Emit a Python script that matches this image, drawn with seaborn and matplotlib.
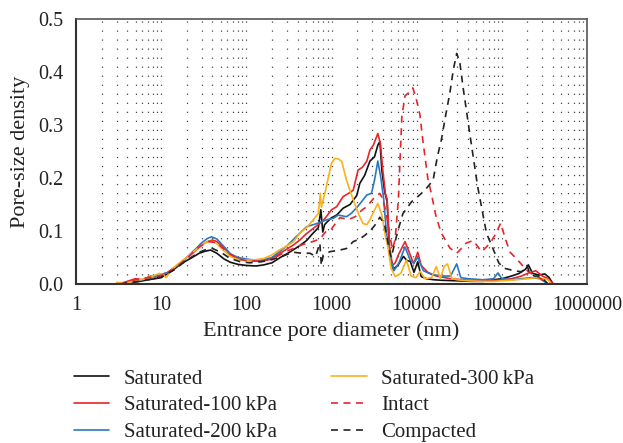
import numpy as np
import pandas as pd
import matplotlib
matplotlib.use("Agg")
import matplotlib.pyplot as plt
import seaborn as sns
from matplotlib.ticker import FixedLocator, NullFormatter

# ---------------- data ----------------
sat_d = [3.3, 4.5, 5.6, 7, 8.5, 10, 12, 14, 17, 22, 28, 33, 38, 45, 55, 65, 80, 100, 130,
         160, 200, 250, 300, 360, 420, 510, 600, 700, 750, 790, 830, 900, 1000, 1150, 1370,
         1650, 1980, 2150, 2450, 2830, 3200, 3500, 3700, 3900, 4200, 4500, 4800, 5300, 6000,
         7000, 7700, 8400, 9300, 10300, 11300, 13000, 16000, 20000, 30000, 45000, 60000,
         80000, 100000, 130000, 160000, 190000, 205000, 230000, 270000, 320000, 360000, 400000]
sat_y = [0.0, 0.003, 0.005, 0.008, 0.010, 0.012, 0.020, 0.027, 0.038, 0.048, 0.058, 0.062,
         0.064, 0.058, 0.047, 0.041, 0.037, 0.035, 0.034, 0.036, 0.040, 0.050, 0.057, 0.065,
         0.072, 0.082, 0.095, 0.106, 0.140, 0.098, 0.112, 0.118, 0.125, 0.130, 0.143, 0.150,
         0.167, 0.190, 0.205, 0.232, 0.240, 0.262, 0.269, 0.215, 0.175, 0.155, 0.060, 0.028,
         0.035, 0.052, 0.044, 0.043, 0.022, 0.042, 0.014, 0.010, 0.008, 0.007, 0.006, 0.005,
         0.005, 0.008, 0.010, 0.015, 0.020, 0.028, 0.036, 0.020, 0.017, 0.019, 0.012, 0.0]

s100_d = [3.2, 4, 5, 6, 7.5, 9, 10, 12, 14, 17, 20, 25, 30, 35, 40, 45, 55, 65, 80, 100, 130,
          160, 200, 250, 300, 360, 425, 500, 610, 700, 800, 870, 1000, 1150, 1370, 1550, 1800,
          2050, 2300, 2600, 2830, 3100, 3500, 3750, 4000, 4300, 4500, 4800, 5200, 5600, 6100,
          7300, 8400, 9200, 10300, 11300, 13500, 17000, 25000, 35000, 50000, 70000, 100000,
          130000, 170000, 200000, 250000, 300000, 350000, 400000]
s100_y = [0.0, 0.005, 0.010, 0.008, 0.015, 0.012, 0.018, 0.022, 0.030, 0.040, 0.050, 0.062,
          0.074, 0.080, 0.083, 0.080, 0.068, 0.055, 0.048, 0.045, 0.043, 0.045, 0.048, 0.058,
          0.066, 0.074, 0.083, 0.094, 0.105, 0.112, 0.120, 0.127, 0.140, 0.146, 0.165, 0.170,
          0.177, 0.215, 0.220, 0.232, 0.253, 0.262, 0.284, 0.265, 0.215, 0.170, 0.160, 0.070,
          0.035, 0.040, 0.055, 0.080, 0.055, 0.038, 0.060, 0.035, 0.022, 0.015, 0.010, 0.008,
          0.006, 0.006, 0.008, 0.010, 0.015, 0.020, 0.025, 0.015, 0.010, 0.0]

s200_d = [3.5, 4.5, 6, 8, 10, 12, 14, 17, 20, 25, 30, 35, 39, 45, 55, 65, 80, 100, 130, 160,
          200, 250, 300, 425, 510, 670, 870, 1050, 1200, 1500, 1700, 2000, 2250, 2600, 2950,
          3200, 3500, 3800, 4100, 4400, 4800, 5400, 6200, 7300, 8400, 9300, 10300, 12000,
          15000, 20000, 25000, 29500, 33000, 40000, 60000, 80000, 90000, 100000, 130000,
          170000, 220000, 280000, 350000]
s200_y = [0.0, 0.003, 0.008, 0.014, 0.017, 0.022, 0.030, 0.040, 0.050, 0.065, 0.078, 0.086,
          0.089, 0.085, 0.070, 0.057, 0.050, 0.047, 0.045, 0.046, 0.050, 0.062, 0.072, 0.096,
          0.108, 0.114, 0.121, 0.124, 0.130, 0.127, 0.133, 0.145, 0.155, 0.168, 0.171, 0.196,
          0.232, 0.200, 0.160, 0.100, 0.055, 0.025, 0.040, 0.070, 0.045, 0.040, 0.050, 0.025,
          0.018, 0.015, 0.015, 0.038, 0.012, 0.010, 0.008, 0.010, 0.021, 0.010, 0.008, 0.010,
          0.012, 0.010, 0.0]

s300_d = [3, 4, 5, 6.5, 8, 9.5, 10.5, 11.5, 13, 15, 18, 22, 27, 32, 36, 40, 45, 55, 65, 80,
          100, 130, 160, 200, 250, 300, 360, 425, 500, 560, 640, 700, 740, 760, 790, 870, 1000,
          1100, 1200, 1320, 1500, 1700, 1870, 2100, 2350, 2600, 2800, 3100, 3500, 3900, 4300,
          4600, 5000, 5600, 6500, 7600, 8600, 9800, 11000, 12500, 15000, 17000, 19000, 21000,
          23000, 26000, 30000, 40000, 60000, 80000, 100000, 150000, 200000, 250000, 300000,
          350000, 380000]
s300_y = [0.003, 0.002, 0.006, 0.010, 0.015, 0.020, 0.018, 0.012, 0.025, 0.035, 0.045, 0.055,
          0.068, 0.077, 0.080, 0.080, 0.076, 0.062, 0.052, 0.046, 0.045, 0.046, 0.048, 0.055,
          0.065, 0.072, 0.080, 0.096, 0.105, 0.114, 0.125, 0.133, 0.171, 0.145, 0.155, 0.184,
          0.228, 0.237, 0.236, 0.231, 0.196, 0.170, 0.152, 0.130, 0.114, 0.112, 0.120, 0.135,
          0.152, 0.130, 0.090, 0.070, 0.030, 0.014, 0.020, 0.045, 0.015, 0.012, 0.024, 0.010,
          0.012, 0.033, 0.010, 0.033, 0.038, 0.010, 0.008, 0.006, 0.005, 0.005, 0.006, 0.008,
          0.010, 0.012, 0.010, 0.008, 0.0]

intact_d = [3.3, 5, 7, 10, 14, 20, 28, 36, 45, 60, 80, 100, 150, 200, 300, 450, 600, 730, 870,
            1000, 1250, 1600, 1900, 2300, 2600, 3250, 3700, 4000, 4400, 4800, 5200, 5600, 6100,
            6700, 7300, 8200, 9000, 9800, 10900, 11800, 13500, 14900, 17000, 19500, 24500,
            29500, 34000, 38000, 46000, 58000, 73000, 85000, 97000, 110000, 125000, 154000,
            195000, 235000, 290000, 330000]
intact_y = [0.0, 0.008, 0.012, 0.016, 0.028, 0.048, 0.070, 0.080, 0.078, 0.060, 0.047, 0.044,
            0.043, 0.047, 0.062, 0.074, 0.080, 0.085, 0.100, 0.104, 0.125, 0.122, 0.127, 0.140,
            0.146, 0.165, 0.171, 0.160, 0.133, 0.095, 0.065, 0.085, 0.160, 0.316, 0.355, 0.362,
            0.370, 0.352, 0.320, 0.272, 0.200, 0.170, 0.125, 0.096, 0.068, 0.058, 0.068, 0.077,
            0.082, 0.061, 0.077, 0.095, 0.115, 0.085, 0.060, 0.045, 0.026, 0.017, 0.010, 0.0]

comp_d = [3.3, 5, 7, 10, 14, 20, 28, 35, 40, 50, 65, 85, 110, 150, 200, 260, 355, 450, 560,
          650, 730, 760, 800, 960, 1250, 1500, 1800, 2150, 2470, 2830, 3200, 3700, 4200, 4700,
          5000, 5300, 6000, 6900, 8700, 10000, 12500, 15600, 17500, 19500, 22000, 24500, 27000,
          29500, 32000, 35000, 42000, 52000, 66000, 80000, 92000, 105000, 140000, 170000,
          190000, 198000, 210000, 240000, 280000, 320000, 350000]
comp_y = [0.0, 0.004, 0.008, 0.013, 0.026, 0.045, 0.060, 0.066, 0.067, 0.060, 0.048, 0.042,
          0.040, 0.042, 0.046, 0.052, 0.060, 0.058, 0.058, 0.052, 0.077, 0.035, 0.055, 0.061,
          0.064, 0.067, 0.080, 0.085, 0.092, 0.100, 0.110, 0.126, 0.112, 0.070, 0.050, 0.065,
          0.100, 0.133, 0.155, 0.163, 0.177, 0.196, 0.240, 0.272, 0.320, 0.360, 0.405, 0.435,
          0.420, 0.372, 0.284, 0.184, 0.096, 0.064, 0.040, 0.030, 0.025, 0.023, 0.030, 0.035,
          0.022, 0.015, 0.015, 0.006, 0.0]

series_names = ["Saturated", "Saturated-100\u2009kPa", "Saturated-200\u2009kPa",
                "Saturated-300\u2009kPa", "Intact", "Compacted"]
series_d = [sat_d, s100_d, s200_d, s300_d, intact_d, comp_d]
series_y = [sat_y, s100_y, s200_y, s300_y, intact_y, comp_y]
colors = ["#111111", "#e8242b", "#2a78c2", "#f8b21c", "#e8242b", "#222222"]
styles = ["-", "-", "-", "-", (0, (5, 4)), (0, (5, 4))]

x_ticks = [1, 10, 100, 1000, 10000, 100000, 1000000]
x_tick_labels = ["1", "10", "100", "1000", "10000", "100000", "1000000"]
y_ticks = [0.0, 0.1, 0.2, 0.3, 0.4, 0.5]
y_tick_labels = ["0.0", "0.1", "0.2", "0.3", "0.4", "0.5"]

# ---------------- plot ----------------
sns.set_theme(style="white")
plt.rcParams["font.family"] = ["Liberation Serif", "DejaVu Serif"]
plt.rcParams["lines.scale_dashes"] = False

fig = plt.figure(figsize=(6.23, 4.43), dpi=100)
ax = fig.add_axes([76 / 623, 1 - 284 / 443, (587 - 76) / 623, (284 - 19) / 443])

frames = []
for name, d, y in zip(series_names, series_d, series_y):
    frames.append(pd.DataFrame({"d": d, "y": y, "series": name}))
df = pd.concat(frames, ignore_index=True)

for name, c, ls in zip(series_names, colors, styles):
    sub = df[df["series"] == name]
    sns.lineplot(data=sub, x="d", y="y", ax=ax, color=c, linestyle=ls, linewidth=1.2,
                 estimator=None, sort=False, label=name, legend=False)

ax.set_xscale("log")
ax.set_xlim(1, 1000000)
ax.set_ylim(0, 0.5)

# dotted vertical grid at each 2..9 x decade and at the decades
grid_pos = []
for e in range(0, 6):
    for m in range(1, 10):
        v = m * 10 ** e
        if v > 1:
            grid_pos.append(v)
for v in grid_pos:
    ax.axvline(v, color="#444444", linewidth=0.9, linestyle=(0, (0.9, 5.6)), zorder=0)

ax.xaxis.set_major_locator(FixedLocator(x_ticks))
ax.set_xticklabels(x_tick_labels)
ax.xaxis.set_minor_locator(FixedLocator([]))
ax.xaxis.set_minor_formatter(NullFormatter())
ax.set_yticks(y_ticks)
ax.set_yticklabels(y_tick_labels)

ax.tick_params(axis="both", which="major", direction="out", length=5, width=1.2,
               color="#333333", labelsize=14.5, pad=4, labelcolor="#222222")
for s in ["left", "bottom"]:
    ax.spines[s].set_color("#333333")
    ax.spines[s].set_linewidth(1.5)
for s in ["top", "right"]:
    ax.spines[s].set_color("#555555")
    ax.spines[s].set_linewidth(1.2)

ax.set_xlabel("Entrance pore diameter (nm)", fontsize=16, color="#222222", labelpad=4)
ax.set_ylabel("Pore-size density", fontsize=16, color="#222222", labelpad=6)

h, l = ax.get_legend_handles_labels()
leg = fig.legend(h, l, ncol=2,
                 loc="upper left", bbox_to_anchor=(74 / 623, 1 - 369 / 443),
                 frameon=False, fontsize=15, handlelength=1.7, handletextpad=0.7,
                 columnspacing=2.6, labelspacing=0.34, borderaxespad=0, borderpad=0)
for t in leg.get_texts():
    t.set_color("#222222")

fig.savefig("out.png", dpi=100)
